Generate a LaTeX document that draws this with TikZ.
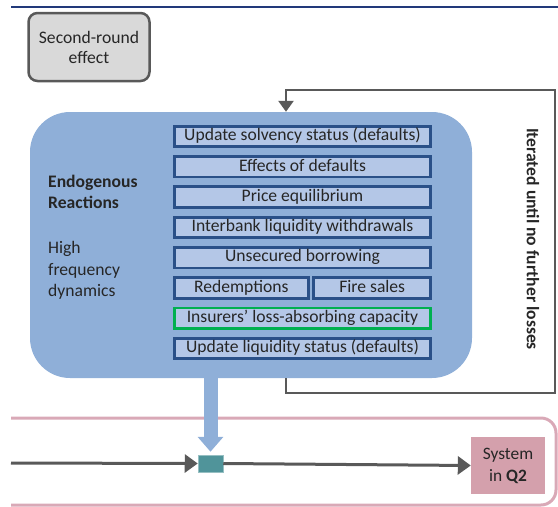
\documentclass[tikz,border=0pt]{standalone}
\usepackage{fontspec}
\setmainfont{Carlito}
\usepackage{tikz}
\usetikzlibrary{%
  arrows.meta, positioning, calc
}
\usepackage{xcolor}

\definecolor{reactblue}{HTML}{8FAFD8}
\definecolor{stepfill}{HTML}{B4C7E7}
\definecolor{stepline}{HTML}{2A5088}
\definecolor{insgreen}{HTML}{00B050}
\definecolor{loopgray}{HTML}{595959}
\definecolor{rulenavy}{HTML}{22397A}
\definecolor{framepink}{HTML}{D9A9B7}
\definecolor{syspink}{HTML}{D4A0AC}
\definecolor{hubteal}{HTML}{50949A}

\begin{document}
\begin{tikzpicture}[%
    x=1pt, y=-1pt,
    >=latex,
    every node/.style={%
      font=\fontsize{17.6}{20}\selectfont,
      text=black!85,
      text centered,
      align=center
    },
    stepbox/.style={draw=stepline, line width=2.8pt, fill=stepfill,
      minimum width=256.5pt, minimum height=20.5pt, inner sep=0pt,
      text height=12pt, text depth=3.5pt},
    lbl/.style={font=\fontsize{17.6}{21.6}\selectfont, align=left, anchor=west,
      inner sep=0pt},
    loopline/.style={draw=loopgray, line width=2.5pt},
    flowline/.style={draw=loopgray, line width=3pt}
  ]

  \useasboundingbox (0,0) rectangle (558,507);

  % Top rule and second-round box
  \draw[rulenavy, line width=2pt] (11,7) -- (558,7);
  \node[draw=loopgray, line width=2.5pt, fill=black!15, rounded corners=9pt,
    minimum width=121pt, minimum height=68pt, font=\fontsize{17.6}{20}\selectfont]
    (srbox) at (89,47) {Second-round\\effect};

  % Endogenous reactions block
  \node[fill=reactblue, rounded corners=40pt, minimum width=442pt,
    minimum height=266pt, inner sep=0pt] (react) at (251,245) {};
  \node[lbl] (endolbl) at (48,192) {\textbf{Endogenous}\\\textbf{Reactions}};
  \node[lbl, below=32pt of endolbl.south west, anchor=north west]
    (hfreq)
    {High\\frequency\\dynamics};

  \node[stepbox] (upsolv) at (302.5,136.5) {Update solvency status (defaults)};
  \node[stepbox, below=7pt of upsolv] (effdef) {Effects of defaults};
  \node[stepbox, below=7pt of effdef] (priceq) {Price equilibrium};
  \node[stepbox, below=7pt of priceq] (interbank) {Interbank liquidity withdrawals};
  \node[stepbox, below=7pt of interbank] (unsec) {Unsecured borrowing};
  \node[stepbox, minimum width=134pt, below=7pt of unsec.south west, anchor=north west]
    (redem)
    {Redemptions};
  \node[stepbox, minimum width=117pt, below=7pt of unsec.south east, anchor=north east]
    (fires)
    {Fire sales};
  \node[stepbox, draw=insgreen, below=7pt of redem.south west, anchor=north west]
    (insurers)
    {Insurers’ loss-absorbing capacity};
  \node[stepbox, below=7pt of insurers] (upliq) {Update liquidity status (defaults)};

  % Iteration loop
  \coordinate (loopbl) at (286,393);
  \coordinate (loopbr) at (555,393);
  \coordinate (looptl) at (286,90);
  \draw[loopline, -{Triangle[width=15pt,length=11pt]}]
    (react.south -| loopbl) -- (loopbl) -- (loopbr) |- (looptl)
    -- (react.north -| looptl);
  \node[rotate=-90, font=\fontsize{17.6}{18}\selectfont\bfseries] (iterlbl) at (533,239)
    {Iterated until no further losses};

  % Quarter timeline
  \draw[framepink, line width=3pt, rounded corners=15pt]
    (11,418) -| (556,505) -- (11,505);
  \node[fill=hubteal, draw=hubteal!60, line width=0.5pt, minimum width=25pt,
    minimum height=17pt, inner sep=0pt] (hub) at (210.5,463.5) {};
  \node[fill=syspink, minimum width=74pt, minimum height=57pt,
    font=\fontsize{17.4}{22}\selectfont] (sysq2) at (508,465.5) {System\\in \textbf{Q2}};
  \coordinate (flowin) at (11,463);
  \draw[flowline, -{Triangle[width=18pt,length=13pt]}] (flowin) -- (hub.west);
  \draw[flowline, -{Triangle[width=18pt,length=13pt]}] (hub.east) -- (sysq2.west);
  \draw[reactblue, line width=14pt, -{Triangle[width=25pt,length=15pt]}, shorten >=3pt]
    (react.south -| hub) -- (hub.north);

\end{tikzpicture}
\end{document}
